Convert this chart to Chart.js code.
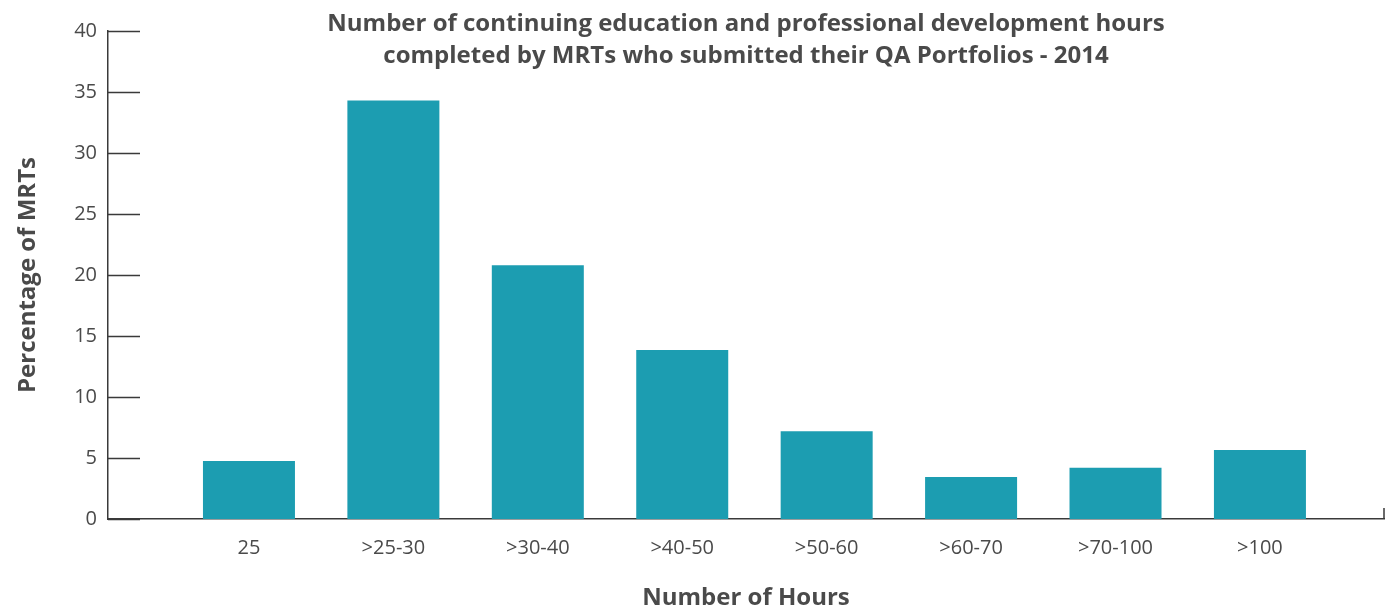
<!DOCTYPE html>
<html>
<head>
<meta charset="utf-8">
<script src="https://cdn.jsdelivr.net/npm/chart.js@4/dist/chart.umd.min.js"></script>
<style>
  html, body { margin: 0; padding: 0; background: #fff; }
  #wrap { width: 1387px; height: 611px; position: relative; }
</style>
</head>
<body>
<div id="wrap"><canvas id="chart"></canvas></div>
<script>
const HOUR_BANDS = ['25', '>25-30', '>30-40', '>40-50', '>50-60', '>60-70', '>70-100', '>100'];
const PERCENT_MRTS = [4.75, 34.3, 20.8, 13.85, 7.2, 3.45, 4.2, 5.65];
const Y_TICKS = [0, 5, 10, 15, 20, 25, 30, 35, 40];

const TEXT = '#4a4a4a';
const AXIS = '#3a3a3a';
const BAR = '#1c9db1';

// short inward tick marks on the y axis and the end tick on the x axis
const axisMarks = {
  id: 'axisMarks',
  afterDatasetsDraw(chart) {
    const { ctx, chartArea, scales } = chart;
    ctx.save();
    ctx.strokeStyle = AXIS;
    ctx.lineWidth = 1.5;
    ctx.beginPath();
    Y_TICKS.forEach(v => {
      const y = Math.round(scales.y.getPixelForValue(v)) + 0.5;
      ctx.moveTo(chartArea.left, y);
      ctx.lineTo(chartArea.left + 32, y);
    });
    ctx.moveTo(chartArea.right, chartArea.bottom);
    ctx.lineTo(chartArea.right, chartArea.bottom - 11);
    ctx.stroke();
    ctx.restore();
  }
};

new Chart(document.getElementById('chart'), {
  type: 'bar',
  data: {
    datasets: [{
      data: PERCENT_MRTS.map((v, i) => ({ x: i, y: v })),
      backgroundColor: BAR,
      borderWidth: 0,
      barPercentage: 0.637,
      categoryPercentage: 1
    }]
  },
  options: {
    responsive: true,
    maintainAspectRatio: false,
    animation: false,
    layout: { padding: { left: 0, right: 3, top: 0, bottom: 0 } },
    scales: {
      x: {
        type: 'linear',
        min: -0.976,
        max: 7.859,
        offset: false,
        bounds: 'data',
        afterBuildTicks: (scale) => {
          scale.ticks = HOUR_BANDS.map((_, i) => ({ value: i }));
        },
        afterFit: (scale) => { scale.height = 92; },
        grid: { display: false, drawTicks: false, offset: false },
        border: { display: true, color: AXIS, width: 1.5 },
        ticks: {
          autoSkip: false,
          maxRotation: 0,
          padding: 17,
          color: TEXT,
          font: { family: 'Open Sans', size: 20 },
          callback: (v) => HOUR_BANDS[v]
        },
        title: {
          display: true,
          text: 'Number of Hours',
          color: TEXT,
          padding: { top: 0, bottom: -2 },
          font: { family: 'Open Sans', size: 24, weight: 'bold' }
        }
      },
      y: {
        min: 0,
        max: 40,
        afterBuildTicks: (scale) => {
          scale.ticks = Y_TICKS.map(v => ({ value: v }));
        },
        afterFit: (scale) => { scale.width = 108; },
        grid: { display: false, drawTicks: false },
        border: { display: true, color: AXIS, width: 1.5 },
        ticks: {
          padding: 11,
          color: TEXT,
          font: { family: 'Open Sans', size: 20 }
        },
        title: {
          display: true,
          text: 'Percentage of MRTs',
          color: TEXT,
          padding: { top: 14, bottom: 0 },
          font: { family: 'Open Sans', size: 24, weight: 'bold' }
        }
      }
    },
    plugins: {
      legend: { display: false },
      tooltip: { enabled: false },
      title: {
        display: true,
        fullSize: false,
        text: ['Number of continuing education and professional development hours',
               'completed by MRTs who submitted their QA Portfolios - 2014'],
        color: TEXT,
        padding: { top: 8, bottom: -41 },
        font: { family: 'Open Sans', size: 24, weight: 'bold', lineHeight: '32px' }
      }
    }
  },
  plugins: [axisMarks]
});
</script>
</body>
</html>
